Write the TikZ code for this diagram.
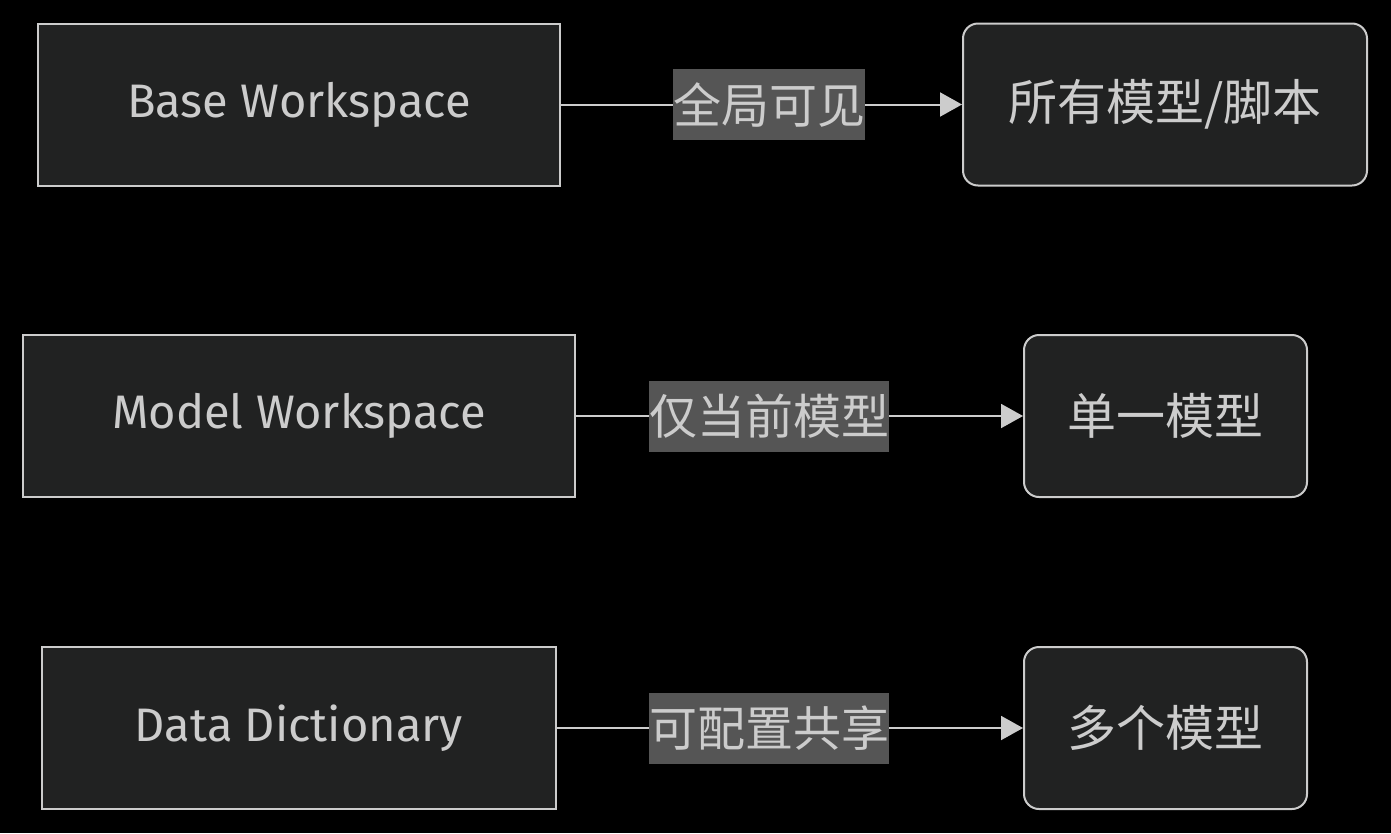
\documentclass[tikz,border=0pt]{standalone}
\usepackage{fontspec}
\setmainfont{Fira Sans}
\newfontfamily\cjk{Noto Sans CJK SC}
\usepackage{tikz}
\usetikzlibrary{arrows.meta,positioning}

\definecolor{boxfill}{HTML}{212222}
\definecolor{boxline}{HTML}{CCCCCC}
\definecolor{lblfill}{HTML}{555555}
\definecolor{txt}{HTML}{CCCCCC}

\tikzset{
  wsbox/.style={draw=boxline,fill=boxfill,line width=2pt,inner sep=0pt,text=txt,
    font=\fontsize{47}{56}\selectfont,minimum height=162pt},
  tgtbox/.style={wsbox,rounded corners=15pt,font=\cjk\fontsize{49}{58}\selectfont},
  lbl/.style={fill=lblfill,inner sep=0pt,text=txt,minimum width=240pt,minimum height=71pt,
    font=\cjk\fontsize{48}{57}\selectfont},
  edge/.style={draw=boxline,line width=2pt,-{Triangle[length=22pt,width=24pt]}}
}

\begin{document}
\begin{tikzpicture}[x=1pt,y=-1pt]

		% Background
		\fill[black] (0,0) rectangle (1391,833);
		\useasboundingbox (0,0) rectangle (1391,833);

		% Workspaces
		\node[wsbox,minimum width=522pt] (base) at (299,104.5) {Base Workspace};
		\node[wsbox,minimum width=552pt] (model) at (299,416) {Model Workspace};
		\node[wsbox,minimum width=514pt] (dict) at (299,728) {Data Dictionary};

		% Visibility targets
		\node[tgtbox,minimum width=404pt] (all) at (1165,104.5) {所有模型/脚本};
		\node[tgtbox,minimum width=283pt] (single) at (1165.5,416) {单一模型};
		\node[tgtbox,minimum width=283pt] (multi) at (1165.5,728) {多个模型};

		% Connectors
		\draw[edge] (base) -- (all);
		\draw[edge] (model) -- (single);
		\draw[edge] (dict) -- (multi);

		% Labels
		\node[lbl,minimum width=192pt] (l1) at (769,104.5) {全局可见};
		\node[lbl] (l2) at (769,416.5) {仅当前模型};
		\node[lbl] (l3) at (769,728) {可配置共享};

	\end{tikzpicture}
\end{document}
